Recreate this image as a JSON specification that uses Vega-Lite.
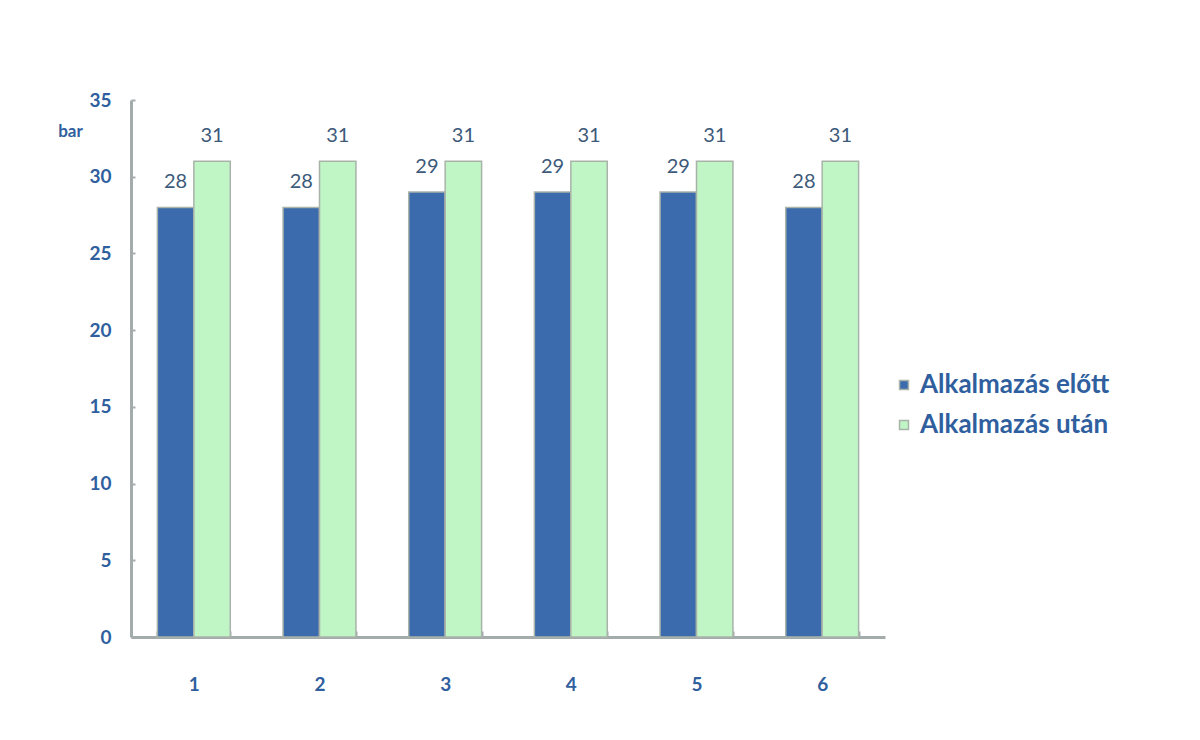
{
  "$schema": "https://vega.github.io/schema/vega-lite/v6.json",
  "width": 754,
  "height": 537,
  "autosize": {"type": "none"},
  "padding": {"left": 131, "top": 100, "right": 315, "bottom": 103},
  "background": "white",
  "view": {"stroke": null},
  "data": {"values": [
    {"cat": "1", "series": "Alkalmazás előtt", "value": 28},
    {"cat": "1", "series": "Alkalmazás után", "value": 31},
    {"cat": "2", "series": "Alkalmazás előtt", "value": 28},
    {"cat": "2", "series": "Alkalmazás után", "value": 31},
    {"cat": "3", "series": "Alkalmazás előtt", "value": 29},
    {"cat": "3", "series": "Alkalmazás után", "value": 31},
    {"cat": "4", "series": "Alkalmazás előtt", "value": 29},
    {"cat": "4", "series": "Alkalmazás után", "value": 31},
    {"cat": "5", "series": "Alkalmazás előtt", "value": 29},
    {"cat": "5", "series": "Alkalmazás után", "value": 31},
    {"cat": "6", "series": "Alkalmazás előtt", "value": 28},
    {"cat": "6", "series": "Alkalmazás után", "value": 31}
  ]},
  "encoding": {
    "x": {
      "field": "cat", "type": "nominal", "sort": null,
      "scale": {"paddingInner": 0.42, "paddingOuter": 0.21},
      "axis": {
        "title": null, "labelAngle": 0, "labelFont": "Lato", "labelFontWeight": "bold",
        "labelFontSize": 19, "labelColor": "#2f5f9e", "labelPadding": 44,
        "domainColor": "#a3abab", "domainWidth": 3, "tickColor": "#a3abab",
        "tickWidth": 2, "tickSize": -6, "tickBand": "extent"
      }
    },
    "xOffset": {"field": "series", "type": "nominal", "sort": null},
    "y": {
      "field": "value", "type": "quantitative",
      "scale": {"domain": [0, 35], "nice": false},
      "axis": {
        "values": [0, 5, 10, 15, 20, 25, 30, 35], "grid": false,
        "title": "bar", "titleAngle": 0, "titleX": -61, "titleY": 31,
        "titleAlign": "center", "titleBaseline": "middle", "titleFont": "Lato",
        "titleFontSize": 17, "titleFontWeight": "bold", "titleColor": "#2f5f9e",
        "labelFont": "Lato", "labelFontWeight": "bold", "labelFontSize": 19,
        "labelColor": "#2f5f9e", "labelPadding": 24, "ticks": true, "tickSize": -4,
        "tickColor": "#a3abab", "tickWidth": 2,
        "domainColor": "#a3abab", "domainWidth": 3
      }
    }
  },
  "layer": [
    {
      "mark": {"type": "bar", "stroke": "#a9b3a9", "strokeWidth": 1.5},
      "encoding": {
        "color": {
          "field": "series", "type": "nominal", "sort": null,
          "scale": {"domain": ["Alkalmazás előtt", "Alkalmazás után"], "range": ["#3b6aad", "#c0f5c6"]},
          "legend": {
            "title": null, "orient": "none", "legendX": 760, "legendY": 272,
            "symbolType": "square", "symbolSize": 80, "symbolStrokeColor": "#a9b3a9",
            "labelFont": "Lato", "labelFontSize": 26, "labelFontWeight": "bold",
            "labelColor": "#2f5f9e", "rowPadding": 14, "labelOffset": 3, "labelLimit": 400
          }
        }
      }
    },
    {
      "mark": {"type": "text", "dy": -15, "baseline": "bottom", "font": "Lato", "fontSize": 20, "color": "#3d5a7a"},
      "encoding": {
        "text": {"field": "value", "type": "quantitative"}
      }
    }
  ]
}
